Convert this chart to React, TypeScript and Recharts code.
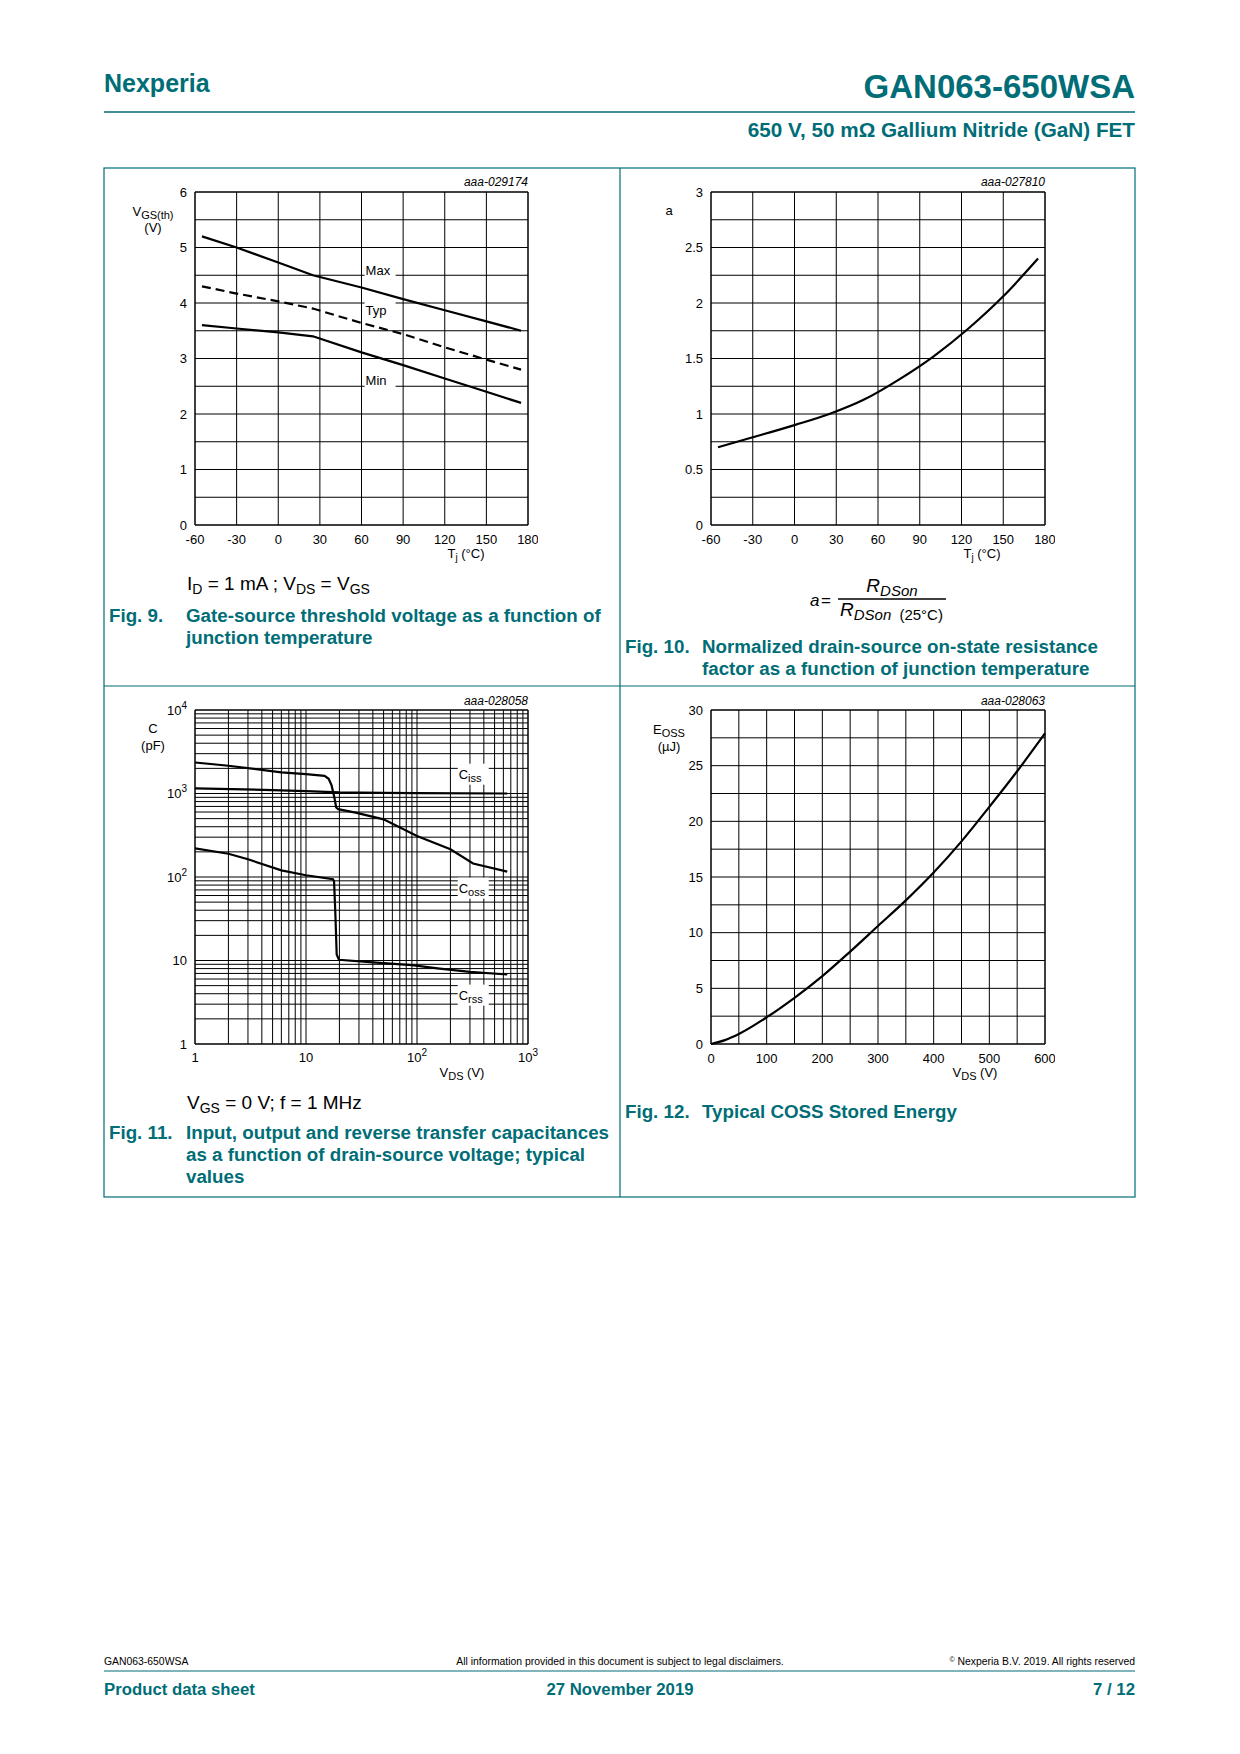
import React from 'react';
import { LineChart, Line, XAxis, YAxis, CartesianGrid, ReferenceDot, ReferenceArea } from 'recharts';

const TEAL = '#006d77';
const FONT = '"Liberation Sans", Arial, Helvetica, sans-serif';

// Fig. 9: gate-source threshold voltage vs junction temperature
const FIG9_TJ = [-55, -30, 0, 25, 60, 90, 120, 150, 175];
const FIG9_MAX = [5.2, 5.0, 4.73, 4.5, 4.28, 4.07, 3.87, 3.67, 3.5];
const FIG9_TYP = [4.3, 4.17, 4.03, 3.9, 3.64, 3.44, 3.2, 2.98, 2.8];
const FIG9_MIN = [3.6, 3.54, 3.47, 3.4, 3.11, 2.88, 2.64, 2.4, 2.2];

// Fig. 10: normalized RDSon factor vs junction temperature
const FIG10_TJ = [-55, -30, 0, 25, 50, 75, 100, 125, 150, 175];
const FIG10_A = [0.7, 0.79, 0.9, 1.0, 1.13, 1.31, 1.52, 1.77, 2.06, 2.4];

// Fig. 11: capacitances vs VDS (log-log)
const CISS_V = [1, 5, 10, 20, 50, 100, 650];
const CISS_C = [1150, 1100, 1070, 1030, 1015, 1010, 1000];
const COSS_V = [1, 2, 4, 6, 10, 14.7, 16, 17, 18, 18.7, 19.5, 28, 50, 100, 200, 320, 650];
const COSS_C = [2350, 2150, 1920, 1790, 1710, 1630, 1500, 1250, 900, 680, 650, 590, 490, 310, 215, 145, 116];
const CRSS_V = [1, 2, 3, 6, 10, 17.5, 17.9, 18.4, 18.9, 19.8, 40, 90, 160, 300, 650];
const CRSS_C = [220, 190, 163, 120, 105, 94, 89, 35.5, 11.8, 10.2, 9.5, 8.8, 8.0, 7.3, 6.8];

// Fig. 12: Eoss vs VDS
const FIG12_VDS = [0, 25, 50, 100, 150, 200, 250, 300, 350, 400, 450, 500, 550, 600];
const FIG12_EOSS = [0, 0.35, 0.9, 2.4, 4.15, 6.1, 8.3, 10.6, 12.9, 15.4, 18.2, 21.3, 24.5, 27.9];

// ticks
const TJ_TICKS = [-60, -30, 0, 30, 60, 90, 120, 150, 180];
const VGS_TICKS = [0, 0.5, 1, 1.5, 2, 2.5, 3, 3.5, 4, 4.5, 5, 5.5, 6];
const A_TICKS = [0, 0.25, 0.5, 0.75, 1, 1.25, 1.5, 1.75, 2, 2.25, 2.5, 2.75, 3];
const LOG_X_TICKS = [1, 2, 3, 4, 5, 6, 7, 8, 9, 10, 20, 30, 40, 50, 60, 70, 80, 90, 100, 200, 300, 400, 500, 600, 700, 800, 900, 1000];
const LOG_Y_TICKS = [1, 2, 3, 4, 5, 6, 7, 8, 9, 10, 20, 30, 40, 50, 60, 70, 80, 90, 100, 200, 300, 400, 500, 600, 700, 800, 900, 1000, 2000, 3000, 4000, 5000, 6000, 7000, 8000, 9000, 10000];
const VDS_TICKS = [0, 50, 100, 150, 200, 250, 300, 350, 400, 450, 500, 550, 600];
const EOSS_TICKS = [0, 2.5, 5, 7.5, 10, 12.5, 15, 17.5, 20, 22.5, 25, 27.5, 30];

const fig9Data = FIG9_TJ.map((t, i) => ({ t, max: FIG9_MAX[i], typ: FIG9_TYP[i], min: FIG9_MIN[i] }));
const fig10Data = FIG10_TJ.map((t, i) => ({ t, a: FIG10_A[i] }));
const cissData = CISS_V.map((v, i) => ({ v, c: CISS_C[i] }));
const cossData = COSS_V.map((v, i) => ({ v, c: COSS_C[i] }));
const crssData = CRSS_V.map((v, i) => ({ v, c: CRSS_C[i] }));
const fig12Data = FIG12_VDS.map((v, i) => ({ v, e: FIG12_EOSS[i] }));

// plot areas on the page
const P1 = { left: 195, top: 192, width: 333, height: 333 };
const P2 = { left: 711, top: 192, width: 334, height: 333 };
const P3 = { left: 195, top: 710, width: 333, height: 334 };
const P4 = { left: 711, top: 710, width: 334, height: 334 };

const YW = 70, MT = 10, MR = 10, XH = 30;
const frame = (p: typeof P1) => ({
  style: { position: 'absolute', left: p.left - YW, top: p.top - MT } as React.CSSProperties,
  width: YW + p.width + MR,
  height: MT + p.height + XH,
  margin: { top: MT, right: MR, left: 0, bottom: 0 },
});

const tickStyle = { fontSize: 13, fill: '#000', fontFamily: FONT };
const lineProps = { stroke: '#000', strokeWidth: 2.2, dot: false, activeDot: false, isAnimationActive: false } as const;

const POW: Record<number, string> = { 1: '', 10: '', 100: '2', 1000: '3', 10000: '4' };
const LogTick = (props: any) => {
  const { x, y, payload, side } = props;
  const v = payload.value;
  if (!(v in POW)) return null;
  const base = v === 1 ? '1' : '10';
  const sup = POW[v];
  return (
    <text x={x} y={y} dy={side === 'x' ? '0.71em' : '0.355em'} textAnchor={side === 'x' ? 'middle' : 'end'}
      fontSize={13} fill="#000" fontFamily={FONT}>
      {base}
      {sup && <tspan dy={-6} fontSize={10}>{sup}</tspan>}
    </text>
  );
};

// curve name with white box hiding grid lines
const CurveLabel = ({ cx, cy, text, sub }: any) => {
  const w = text.length * 9 + (sub ? sub.length * 6 : 0) + 4;
  return (
    <g>
      <rect x={cx + 1} y={cy - 10} width={w} height={21} fill="#fff" />
      <text x={cx + 2} y={cy + 5} fontSize={13} fill="#000" fontFamily={FONT}>
        {text}
        {sub && <tspan dy={3} fontSize={11}>{sub}</tspan>}
      </text>
    </g>
  );
};

const Fig9 = () => {
  const f = frame(P1);
  return (
    <div style={f.style}>
      <LineChart width={f.width} height={f.height} margin={f.margin} data={fig9Data}>
        <CartesianGrid stroke="#000" strokeWidth={1} />
        <XAxis type="number" dataKey="t" domain={[-60, 180]} ticks={TJ_TICKS} interval={0} height={XH}
          axisLine={false} tickLine={false} tickSize={0} tickMargin={10} tick={tickStyle} />
        <YAxis type="number" domain={[0, 6]} ticks={VGS_TICKS} interval={0} width={YW}
          axisLine={false} tickLine={false} tickSize={0} tickMargin={8} tick={tickStyle}
          tickFormatter={(v: number) => (Number.isInteger(v) ? String(v) : '')} />
        <ReferenceArea x1={-60} x2={180} y1={0} y2={6} fill="none" stroke="#000" strokeWidth={1} />
        <Line dataKey="max" type="linear" {...lineProps} />
        <Line dataKey="typ" type="linear" {...lineProps} strokeDasharray="9 5" />
        <Line dataKey="min" type="linear" {...lineProps} />
        <ReferenceDot x={61.5} y={4.6} r={0} shape={(p: any) => <CurveLabel {...p} text="Max" />} />
        <ReferenceDot x={61.5} y={3.87} r={0} shape={(p: any) => <CurveLabel {...p} text="Typ" />} />
        <ReferenceDot x={61.5} y={2.61} r={0} shape={(p: any) => <CurveLabel {...p} text="Min" />} />
      </LineChart>
    </div>
  );
};

const Fig10 = () => {
  const f = frame(P2);
  return (
    <div style={f.style}>
      <LineChart width={f.width} height={f.height} margin={f.margin} data={fig10Data}>
        <CartesianGrid stroke="#000" strokeWidth={1} />
        <XAxis type="number" dataKey="t" domain={[-60, 180]} ticks={TJ_TICKS} interval={0} height={XH}
          axisLine={false} tickLine={false} tickSize={0} tickMargin={10} tick={tickStyle} />
        <YAxis type="number" domain={[0, 3]} ticks={A_TICKS} interval={0} width={YW}
          axisLine={false} tickLine={false} tickSize={0} tickMargin={8} tick={tickStyle}
          tickFormatter={(v: number) => (Number.isInteger(v * 2) ? String(v) : '')} />
        <ReferenceArea x1={-60} x2={180} y1={0} y2={3} fill="none" stroke="#000" strokeWidth={1} />
        <Line dataKey="a" type="monotone" {...lineProps} />
      </LineChart>
    </div>
  );
};

const Fig11 = () => {
  const f = frame(P3);
  return (
    <div style={f.style}>
      <LineChart width={f.width} height={f.height} margin={f.margin}>
        <CartesianGrid stroke="#000" strokeWidth={1} />
        <XAxis type="number" dataKey="v" scale="log" domain={[1, 1000]} allowDataOverflow ticks={LOG_X_TICKS}
          interval={0} height={XH} axisLine={false} tickLine={false} tickSize={0} tickMargin={9}
          tick={<LogTick side="x" />} />
        <YAxis type="number" dataKey="c" scale="log" domain={[1, 10000]} allowDataOverflow ticks={LOG_Y_TICKS}
          interval={0} width={YW} axisLine={false} tickLine={false} tickSize={0} tickMargin={8}
          tick={<LogTick side="y" />} />
        <ReferenceArea x1={1} x2={1000} y1={1} y2={10000} fill="none" stroke="#000" strokeWidth={1} />
        <Line data={cissData} dataKey="c" type="linear" {...lineProps} />
        <Line data={cossData} dataKey="c" type="linear" {...lineProps} />
        <Line data={crssData} dataKey="c" type="linear" {...lineProps} />
        <ReferenceDot x={228} y={1726} r={0} shape={(p: any) => <CurveLabel {...p} text="C" sub="iss" />} />
        <ReferenceDot x={228} y={74.6} r={0} shape={(p: any) => <CurveLabel {...p} text="C" sub="oss" />} />
        <ReferenceDot x={228} y={3.9} r={0} shape={(p: any) => <CurveLabel {...p} text="C" sub="rss" />} />
      </LineChart>
    </div>
  );
};

const Fig12 = () => {
  const f = frame(P4);
  return (
    <div style={f.style}>
      <LineChart width={f.width} height={f.height} margin={f.margin} data={fig12Data}>
        <CartesianGrid stroke="#000" strokeWidth={1} />
        <XAxis type="number" dataKey="v" domain={[0, 600]} ticks={VDS_TICKS} interval={0} height={XH}
          axisLine={false} tickLine={false} tickSize={0} tickMargin={10} tick={tickStyle}
          tickFormatter={(v: number) => (v % 100 === 0 ? String(v) : '')} />
        <YAxis type="number" domain={[0, 30]} ticks={EOSS_TICKS} interval={0} width={YW}
          axisLine={false} tickLine={false} tickSize={0} tickMargin={8} tick={tickStyle}
          tickFormatter={(v: number) => (v % 5 === 0 ? String(v) : '')} />
        <ReferenceArea x1={0} x2={600} y1={0} y2={30} fill="none" stroke="#000" strokeWidth={1} />
        <Line dataKey="e" type="monotone" {...lineProps} />
      </LineChart>
    </div>
  );
};

const cap = { fontSize: 18.75, fontWeight: 700, fill: TEAL } as const;
const small = { fontSize: 13, fill: '#000' } as const;
const foot = { fontSize: 16.75, fontWeight: 700, fill: TEAL } as const;

const Page = () => (
  <svg width={1240} height={1754} style={{ position: 'absolute', left: 0, top: 0, fontFamily: FONT }}>
    {/* header */}
    <text x={104} y={92} fontSize={25} fontWeight={700} fill={TEAL}>Nexperia</text>
    <text x={1135} y={98} fontSize={33} fontWeight={700} fill={TEAL} textAnchor="end">GAN063-650WSA</text>
    <line x1={104} x2={1135} y1={112} y2={112} stroke={TEAL} strokeWidth={1.5} />
    <text x={1135} y={137} fontSize={20.7} fontWeight={700} fill={TEAL} textAnchor="end">650 V, 50 mΩ Gallium Nitride (GaN) FET</text>

    {/* figure frames */}
    <rect x={104} y={168} width={1031} height={1029} fill="none" stroke={TEAL} strokeWidth={1.2} />
    <line x1={620} x2={620} y1={168} y2={1197} stroke={TEAL} strokeWidth={1.2} />
    <line x1={104} x2={1135} y1={686} y2={686} stroke={TEAL} strokeWidth={1.2} />

    {/* Fig. 9 */}
    <text x={528} y={186} fontSize={12} fontStyle="italic" textAnchor="end">aaa-029174</text>
    <text x={153} y={216} {...small} textAnchor="middle">V<tspan dy={3} fontSize={11}>GS(th)</tspan></text>
    <text x={153} y={232} {...small} textAnchor="middle">(V)</text>
    <text x={466} y={558} {...small} textAnchor="middle">T<tspan dy={3} fontSize={10}>j</tspan><tspan dy={-3}> (°C)</tspan></text>
    <text x={187} y={590} fontSize={19}>I<tspan dy={4} fontSize={14}>D</tspan><tspan dy={-4}> = 1 mA ; V</tspan><tspan dy={4} fontSize={14}>DS</tspan><tspan dy={-4}> = V</tspan><tspan dy={4} fontSize={14}>GS</tspan></text>
    <text x={109} y={622} {...cap}>Fig. 9.</text>
    <text x={186} y={622} {...cap}>Gate-source threshold voltage as a function of</text>
    <text x={186} y={644} {...cap}>junction temperature</text>

    {/* Fig. 10 */}
    <text x={1045} y={186} fontSize={12} fontStyle="italic" textAnchor="end">aaa-027810</text>
    <text x={669} y={215} {...small} textAnchor="middle">a</text>
    <text x={982} y={558} {...small} textAnchor="middle">T<tspan dy={3} fontSize={10}>j</tspan><tspan dy={-3}> (°C)</tspan></text>
    <text x={810} y={606} fontSize={17} fontStyle="italic">a</text>
    <text x={821} y={606} fontSize={17}>=</text>
    <line x1={838} x2={946} y1={599} y2={599} stroke="#000" strokeWidth={1.6} />
    <text x={892} y={592} fontSize={19} fontStyle="italic" textAnchor="middle">R<tspan dy={4} fontSize={15}>DSon</tspan></text>
    <text x={840} y={616} fontSize={19} fontStyle="italic">R<tspan dy={4} fontSize={15}>DSon</tspan><tspan dx={4} fontSize={15} fontStyle="normal"> (25°C)</tspan></text>
    <text x={625} y={653} {...cap}>Fig. 10.</text>
    <text x={702} y={653} {...cap}>Normalized drain-source on-state resistance</text>
    <text x={702} y={675} {...cap}>factor as a function of junction temperature</text>

    {/* Fig. 11 */}
    <text x={528} y={705} fontSize={12} fontStyle="italic" textAnchor="end">aaa-028058</text>
    <text x={153} y={733} {...small} textAnchor="middle">C</text>
    <text x={153} y={750} {...small} textAnchor="middle">(pF)</text>
    <text x={462} y={1077} {...small} textAnchor="middle">V<tspan dy={3} fontSize={11}>DS</tspan><tspan dy={-3}> (V)</tspan></text>
    <text x={187} y={1109} fontSize={19}>V<tspan dy={4} fontSize={14}>GS</tspan><tspan dy={-4}> = 0 V; f = 1 MHz</tspan></text>
    <text x={109} y={1139} {...cap}>Fig. 11.</text>
    <text x={186} y={1139} {...cap}>Input, output and reverse transfer capacitances</text>
    <text x={186} y={1161} {...cap}>as a function of drain-source voltage; typical</text>
    <text x={186} y={1183} {...cap}>values</text>

    {/* Fig. 12 */}
    <text x={1045} y={705} fontSize={12} fontStyle="italic" textAnchor="end">aaa-028063</text>
    <text x={669} y={734} {...small} textAnchor="middle">E<tspan dy={3} fontSize={11}>OSS</tspan></text>
    <text x={669} y={751} {...small} textAnchor="middle">(µJ)</text>
    <text x={975} y={1077} {...small} textAnchor="middle">V<tspan dy={3} fontSize={11}>DS</tspan><tspan dy={-3}>  (V)</tspan></text>
    <text x={625} y={1118} {...cap}>Fig. 12.</text>
    <text x={702} y={1118} {...cap}>Typical COSS Stored Energy</text>

    {/* footer */}
    <text x={104} y={1665} fontSize={10.4}>GAN063-650WSA</text>
    <text x={620} y={1665} fontSize={10.4} textAnchor="middle">All information provided in this document is subject to legal disclaimers.</text>
    <text x={1135} y={1665} fontSize={10.4} textAnchor="end"><tspan fontSize={7} dy={-3}>©</tspan><tspan dy={3}> Nexperia B.V. 2019. All rights reserved</tspan></text>
    <line x1={104} x2={1135} y1={1671} y2={1671} stroke={TEAL} strokeWidth={1.2} />
    <text x={104} y={1695} {...foot}>Product data sheet</text>
    <text x={620} y={1695} {...foot} textAnchor="middle">27 November 2019</text>
    <text x={1135} y={1695} {...foot} textAnchor="end">7 / 12</text>
  </svg>
);

export default function App() {
  return (
    <div style={{ position: 'absolute', left: 0, top: 0, width: 1240, height: 1754, background: '#fff', fontFamily: FONT }}>
      <Page />
      <Fig9 />
      <Fig10 />
      <Fig11 />
      <Fig12 />
    </div>
  );
}
